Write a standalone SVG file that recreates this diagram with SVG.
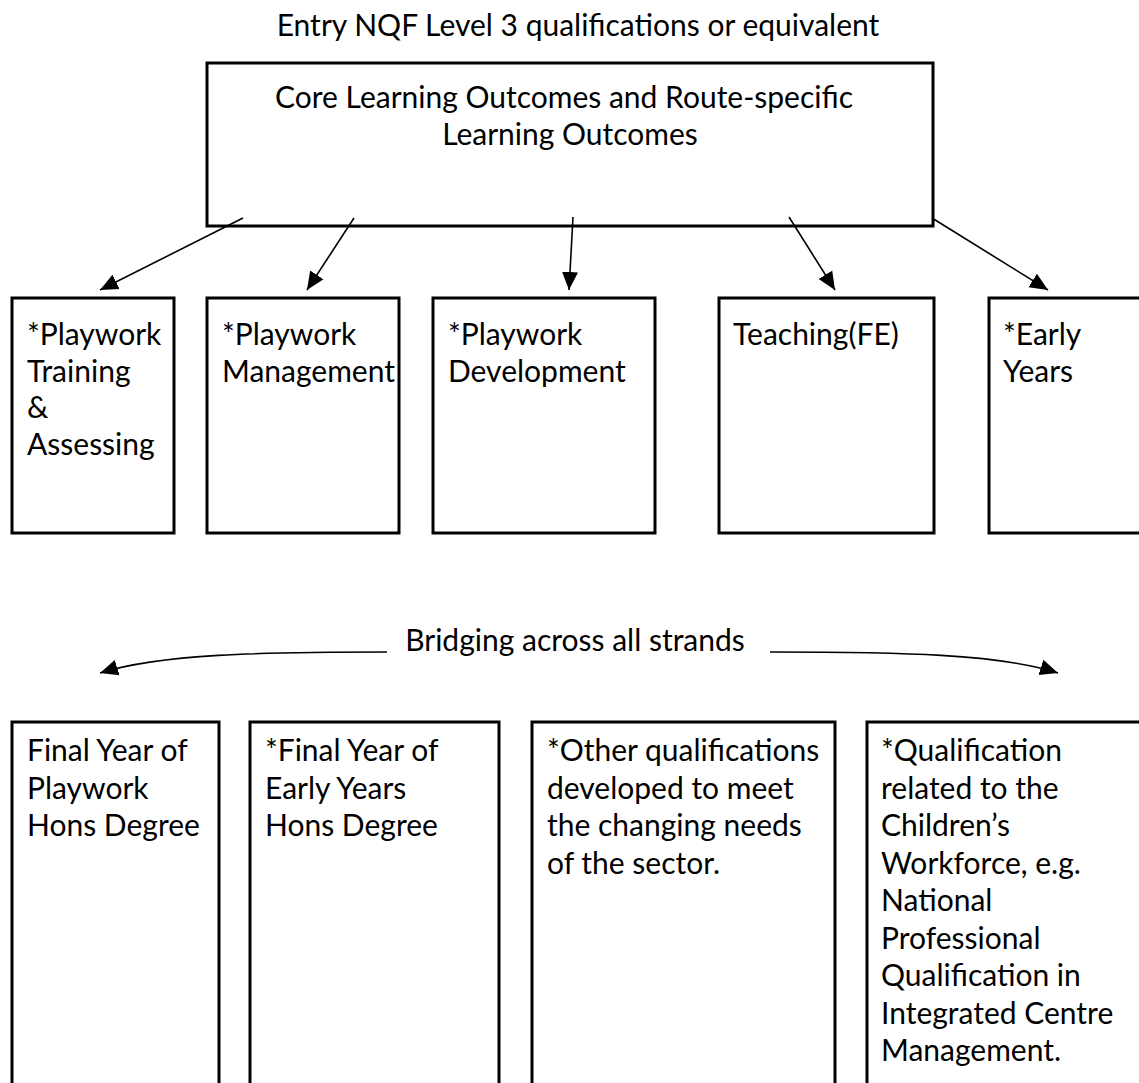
<svg xmlns="http://www.w3.org/2000/svg" width="1139" height="1083" viewBox="0 0 1139 1083">
<style>
  text { font-family: "Lato", "Open Sans", sans-serif; font-size: 30px; fill: #000; }
  .box { fill: #fff; stroke: #000; stroke-width: 3; }
  .conn { fill: none; stroke: #000; stroke-width: 1.6; marker-end: url(#arrow); }
</style>
<defs>
  <marker id="arrow" markerUnits="userSpaceOnUse" markerWidth="19" markerHeight="17" refX="18" refY="8.5" orient="auto" viewBox="0 0 19 17">
    <path d="M0,0.5 L18,8.5 L0,16.5 z" fill="#000"/>
  </marker>
</defs>
<rect width="1139" height="1083" fill="#fff"/>

<g id="title">
  <text x="578" y="36" text-anchor="middle">Entry NQF Level 3 qualifications or equivalent</text>
</g>

<g id="core">
  <rect class="box" x="207" y="63" width="726" height="163"/>
  <text x="564" y="108" text-anchor="middle">Core Learning Outcomes and Route-specific</text>
  <text x="570" y="145" text-anchor="middle">Learning Outcomes</text>
</g>

<g id="pw-training">
  <rect class="box" x="12" y="298" width="162" height="235"/>
  <text x="27" y="345">*Playwork<tspan x="27" dy="36.5">Training</tspan><tspan x="27" dy="36.5">&amp;</tspan><tspan x="27" dy="36.5">Assessing</tspan></text>
</g>
<g id="pw-management">
  <rect class="box" x="207" y="298" width="192" height="235"/>
  <text x="222" y="345">*Playwork<tspan x="222" dy="36.5">Management</tspan></text>
</g>
<g id="pw-development">
  <rect class="box" x="433" y="298" width="222" height="235"/>
  <text x="448" y="345">*Playwork<tspan x="448" dy="36.5">Development</tspan></text>
</g>
<g id="teaching">
  <rect class="box" x="719" y="298" width="215" height="235"/>
  <text x="733" y="345">Teaching(FE)</text>
</g>
<g id="early-years">
  <rect class="box" x="989" y="298" width="170" height="235"/>
  <text x="1003" y="345">*Early<tspan x="1003" dy="36.5">Years</tspan></text>
</g>

<g id="bridging">
  <text x="575" y="651" text-anchor="middle">Bridging across all strands</text>
</g>

<g id="final-playwork">
  <rect class="box" x="12" y="722" width="207" height="380"/>
  <text x="27" y="761">Final Year of<tspan x="27" dy="37.5">Playwork</tspan><tspan x="27" dy="37.5">Hons Degree</tspan></text>
</g>
<g id="final-early">
  <rect class="box" x="250" y="722" width="249" height="380"/>
  <text x="265" y="761">*Final Year of<tspan x="265" dy="37.5">Early Years</tspan><tspan x="265" dy="37.5">Hons Degree</tspan></text>
</g>
<g id="other-quals">
  <rect class="box" x="532" y="722" width="303" height="380"/>
  <text x="547" y="761">*Other qualifications<tspan x="547" dy="37.5">developed to meet</tspan><tspan x="547" dy="37.5">the changing needs</tspan><tspan x="547" dy="37.5">of the sector.</tspan></text>
</g>
<g id="childrens-workforce">
  <rect class="box" x="867" y="722" width="290" height="380"/>
  <text x="881" y="761">*Qualification<tspan x="881" dy="37.5">related to the</tspan><tspan x="881" dy="37.5">Children’s</tspan><tspan x="881" dy="37.5">Workforce, e.g.</tspan><tspan x="881" dy="37.5">National</tspan><tspan x="881" dy="37.5">Professional</tspan><tspan x="881" dy="37.5">Qualification in</tspan><tspan x="881" dy="37.5">Integrated Centre</tspan><tspan x="881" dy="37.5">Management.</tspan></text>
</g>

<g id="connectors">
  <line class="conn" x1="243" y1="218" x2="100" y2="290"/>
  <line class="conn" x1="354" y1="218" x2="307" y2="290"/>
  <line class="conn" x1="573" y1="217" x2="569" y2="290"/>
  <line class="conn" x1="789" y1="217" x2="835" y2="290"/>
  <line class="conn" x1="932" y1="218" x2="1048" y2="290"/>
  <path class="conn" d="M387,652 C260,652 160,654 100,673"/>
  <path class="conn" d="M770,652 C900,652 1000,654 1058,673"/>
</g>
</svg>
